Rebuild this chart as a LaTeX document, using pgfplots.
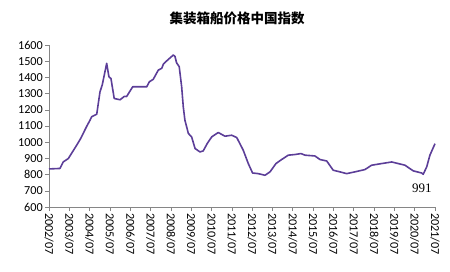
\documentclass[border=0pt]{standalone}
\usepackage{pgfplots}
\pgfplotsset{compat=1.18}
\usepackage{fontspec}
\setmainfont{Carlito}
\newfontfamily\cjk{Noto Sans CJK SC}
\newfontfamily\serif{Liberation Serif}
\definecolor{lineP}{RGB}{92,62,152}
\definecolor{axgray}{RGB}{134,134,134}
\begin{document}
\begin{tikzpicture}
\useasboundingbox (-49pt,-64pt) rectangle (401pt,207pt);
\begin{axis}[
  scale only axis,
  width=386pt, height=162pt,
  xmin=2002.5, xmax=2021.5,
  ymin=600, ymax=1600,
  ytick={600,700,...,1600},
  xtick={2002.5,2003.5,...,2021.5},
  xticklabels={2002/07,2003/07,2004/07,2005/07,2006/07,2007/07,2008/07,2009/07,2010/07,2011/07,2012/07,2013/07,2014/07,2015/07,2016/07,2017/07,2018/07,2019/07,2020/07,2021/07},
  axis lines*=left,
  axis line style={axgray, line width=0.6pt, -},
  tick style={axgray, line width=0.6pt},
  tick align=outside,
  major tick length=4pt,
  /pgf/number format/assume math mode=true,
  /pgf/number format/1000 sep={},
  tick label style={font=\fontsize{12.2}{13}\selectfont, black},
  xticklabel style={rotate=-90, anchor=west, inner sep=2pt},
  yticklabel style={inner sep=2pt},
  clip=false,
]
\addplot[lineP, line width=1.6pt, line join=round] coordinates {
(2002.50,835) (2003.04,838) (2003.20,878) (2003.45,899) (2003.86,981)
(2004.06,1023) (2004.36,1099) (2004.52,1136) (2004.60,1157) (2004.85,1173)
(2005.01,1311) (2005.12,1353) (2005.34,1487) (2005.45,1404) (2005.55,1393)
(2005.71,1270) (2006.00,1262) (2006.21,1283) (2006.32,1282) (2006.62,1342)
(2007.31,1342) (2007.44,1373) (2007.63,1388) (2007.88,1445) (2008.05,1456)
(2008.13,1482) (2008.37,1511) (2008.62,1538) (2008.70,1530) (2008.78,1490)
(2008.91,1466) (2009.03,1342) (2009.11,1218) (2009.19,1136) (2009.36,1054)
(2009.52,1033) (2009.69,961) (2009.93,940) (2010.09,946) (2010.29,992)
(2010.51,1033) (2010.83,1060) (2011.16,1037) (2011.49,1043) (2011.74,1029)
(2012.06,951) (2012.31,868) (2012.52,810) (2012.80,806) (2013.13,796)
(2013.38,817) (2013.67,868) (2013.95,893) (2014.28,920) (2014.61,924)
(2014.90,930) (2015.10,920) (2015.59,915) (2015.84,893) (2016.17,884)
(2016.49,827) (2016.82,817) (2017.15,806) (2017.56,817) (2018.05,831)
(2018.38,858) (2018.87,868) (2019.37,878) (2020.02,858) (2020.43,823)
(2020.84,810) (2020.92,802) (2021.09,847) (2021.25,920) (2021.50,991)
};
\node[font=\serif\fontsize{13}{14}\selectfont] at (axis cs:2020.85,716) {991};
\end{axis}
\node[font=\cjk\bfseries\fontsize{13.5}{15}\selectfont] at (188pt,189pt) {集装箱船价格中国指数};
\end{tikzpicture}
\end{document}
